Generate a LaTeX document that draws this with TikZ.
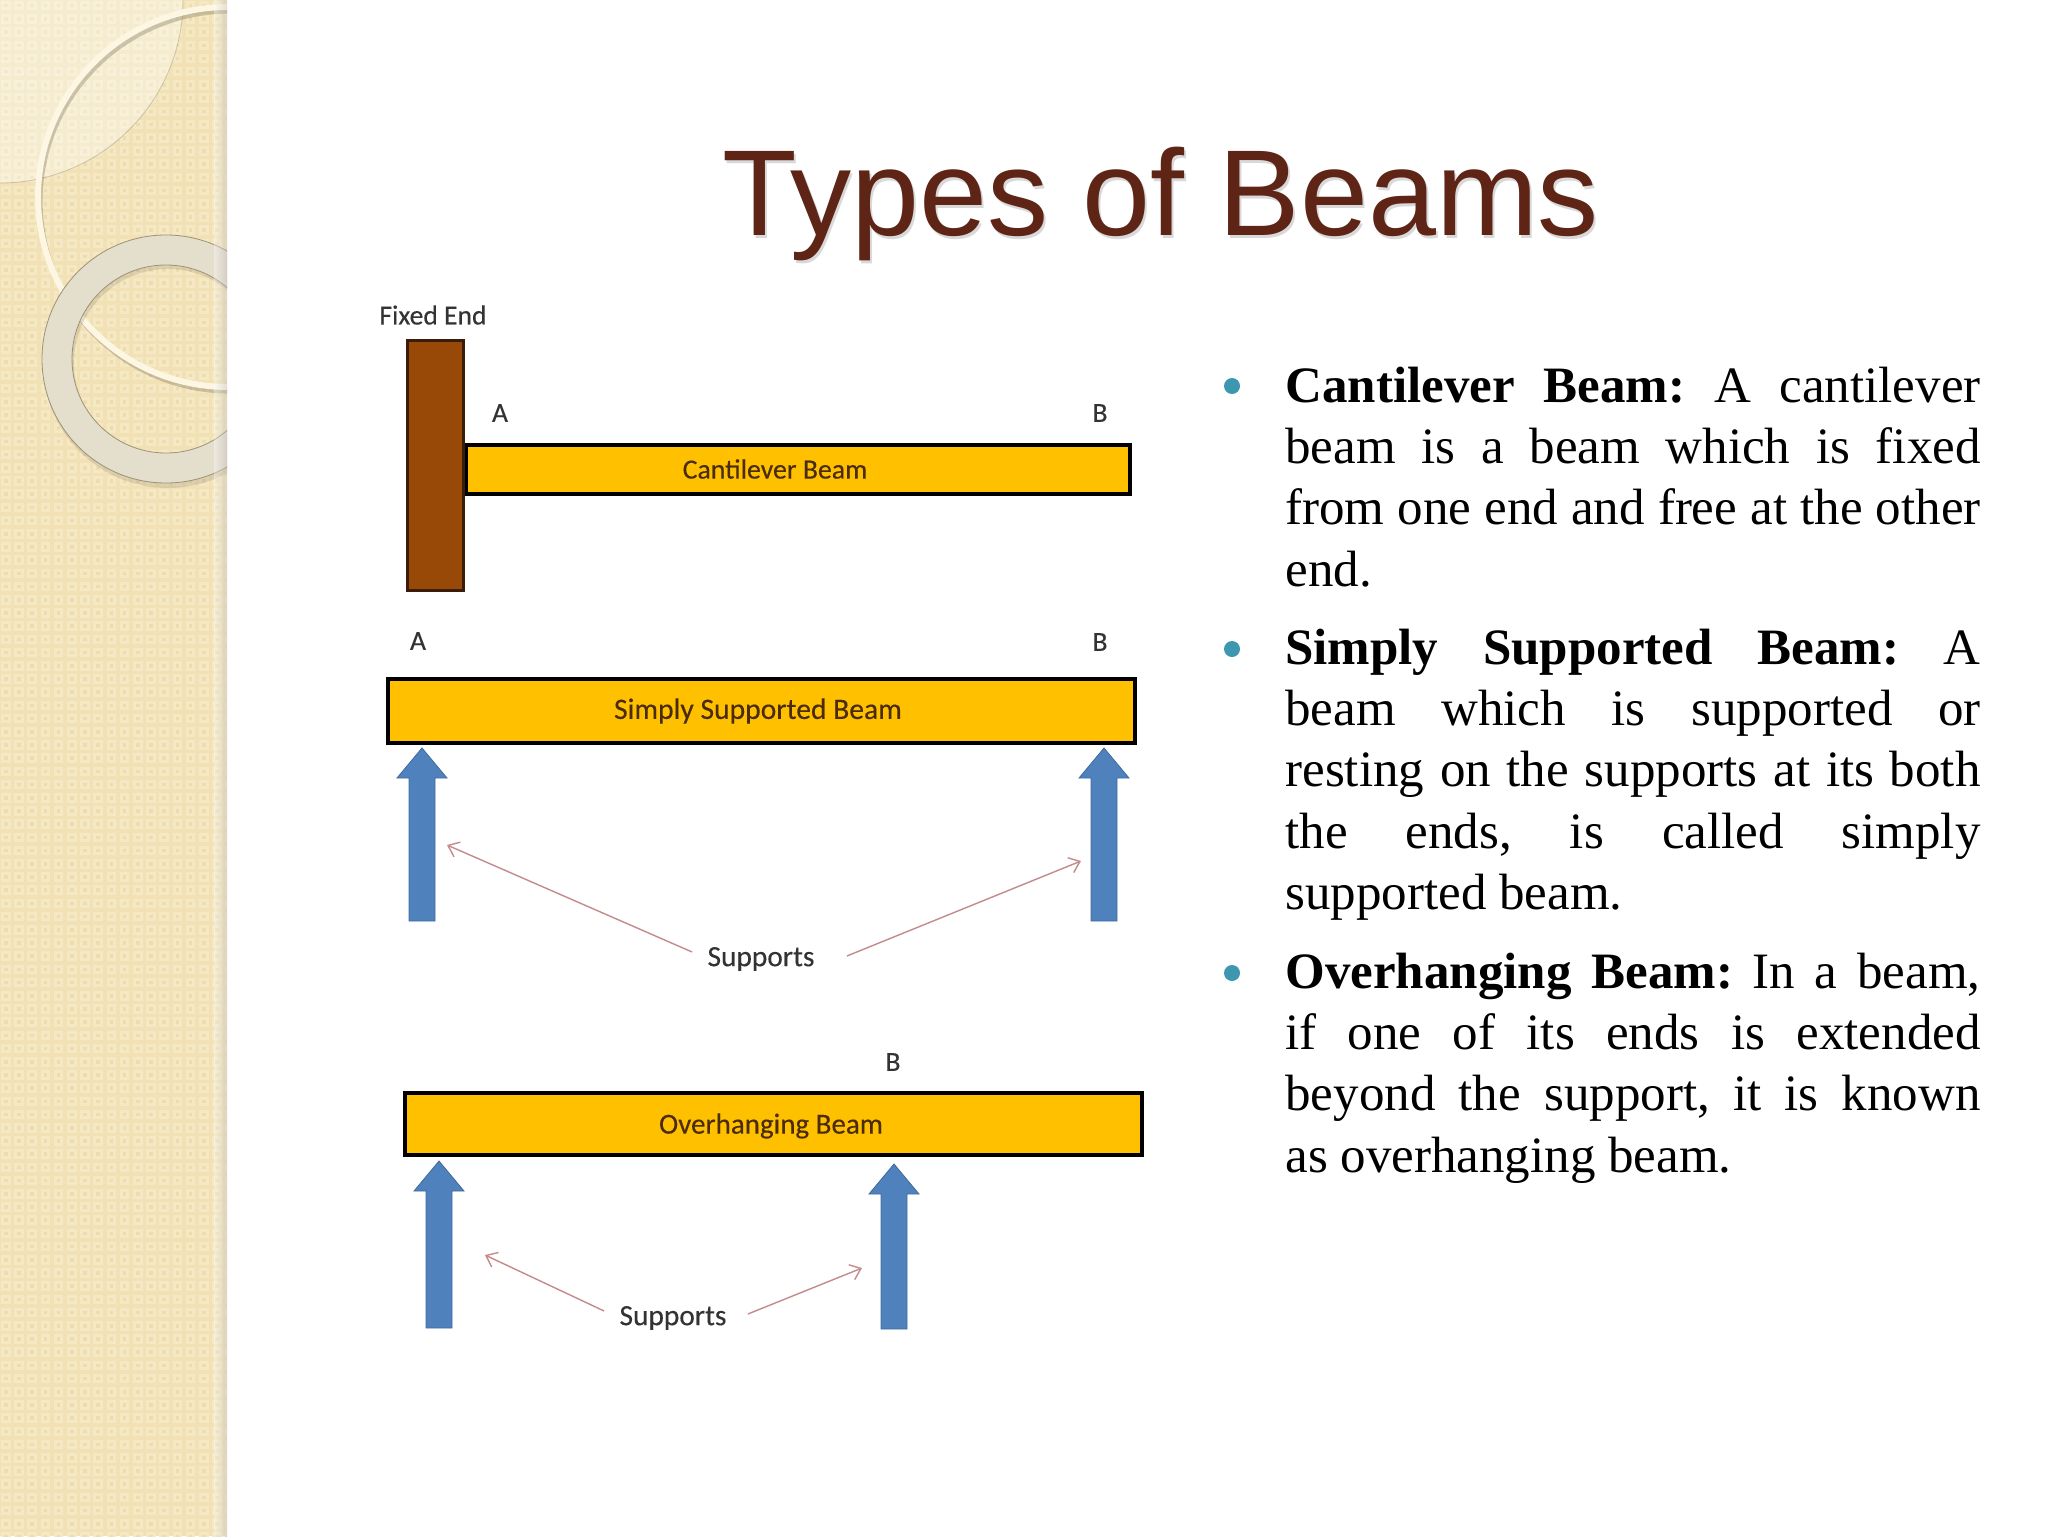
\documentclass[tikz,border=0pt]{standalone}
\usepackage{fontspec}
\setmainfont{Liberation Serif}
\newfontfamily\titlefont{Liberation Sans}
\newfontfamily\labelfont[FakeBold=0.25]{Carlito}
\usetikzlibrary{arrows.meta}
\definecolor{panelbase}{HTML}{F1E1B4}
\definecolor{panellight}{HTML}{F5E8C5}
\definecolor{paneldark}{HTML}{EDDCAC}
\definecolor{ringcol}{HTML}{E4DECD}
\definecolor{swooshcol}{HTML}{FCF6E2}
\definecolor{titlecol}{HTML}{5E2415}
\definecolor{beamcol}{HTML}{FFC000}
\definecolor{wallcol}{HTML}{984807}
\definecolor{wallline}{HTML}{3A1C08}
\definecolor{arrowfill}{HTML}{4F81BD}
\definecolor{arrowline}{HTML}{3F6A9E}
\definecolor{pointer}{HTML}{C48A8C}
\definecolor{bulletcol}{HTML}{3E97B0}
\definecolor{labelcol}{HTML}{333333}
\definecolor{beamtext}{HTML}{4A2C08}
\newlength{\jw}\setlength{\jw}{347.6pt}
\newcommand{\jl}[1]{\hbox to\jw{#1}}
\newcommand{\supportarrow}[3]{%
  \fill[arrowfill,draw=arrowline,line width=0.4pt] ({#1-13},#3) -- ({#1+13},#3) -- ({#1+13},{#2+30}) -- ({#1+25},{#2+30}) -- (#1,#2) -- ({#1-25},{#2+30}) -- ({#1-13},{#2+30}) -- cycle;}
\tikzset{
  beambar/.style={draw=black,fill=beamcol,line width=2pt,rectangle,inner sep=0pt,minimum width=#1},
  lab/.style={inner sep=0pt,font=\labelfont\fontsize{13.8pt}{15pt}\selectfont,text=labelcol},
  suplab/.style={inner sep=0pt,font=\labelfont\fontsize{14.7pt}{16pt}\selectfont,text=labelcol},
  beamlab/.style={inner sep=0pt,text=beamtext},
  para/.style={inner sep=0pt,anchor=base west,font=\fontsize{25.5pt}{30.7pt}\selectfont,text=black},
  bulletdot/.style={circle,fill=bulletcol,inner sep=0pt,minimum size=8pt},
  pointerline/.style={draw=pointer,line width=0.7pt,-{Straight Barb[length=5pt,width=8pt]}},
}
\begin{document}
\frenchspacing
\begin{tikzpicture}[x=0.5pt,y=-0.5pt]
\useasboundingbox (0,0) rectangle (2048,1536);
\fill[white] (0,0) rectangle (2048,1536);
% side panel
\begin{scope}
\clip (0,0) rectangle (227,1536);
\fill[panelbase] (0,0) rectangle (227,1536);
\foreach \i in {0,...,17}{\foreach \j in {0,...,117}{
  \fill[panellight] ({\i*13.2+1},{\j*13.2+1}) rectangle ++(9.5,9.5);
  \fill[paneldark] ({\i*13.2+4},{\j*13.2+4}) rectangle ++(3.5,3.5);
}}
% light quarter disc
\fill[white,opacity=0.35] (0,0) -- (183,0) arc[start angle=0,end angle=90,radius=183] -- cycle;
\draw[black!40!panelbase,opacity=0.4,line width=0.4pt] (183,0) arc[start angle=0,end angle=90,radius=183];
% large thin circle
\draw[black!50!panelbase,opacity=0.35,line width=2.6pt] (230,201) circle[radius=190];
\draw[swooshcol,line width=3pt] (228,197) circle[radius=190];
% ring
\fill[black,opacity=0.10,even odd rule] (168,363) circle[radius=125] (168,363) circle[radius=94];
\fill[ringcol,even odd rule,draw=black!35!panelbase,line width=0.4pt] (166,359) circle[radius=124] (166,359) circle[radius=94];
\shade[left color=black!0,right color=black!30,opacity=0.35] (214,0) rectangle (227,1536);
\end{scope}
% title
\node[inner sep=0pt,anchor=base,text=black,opacity=0.15,font=\titlefont\fontsize{61.1pt}{66pt}\selectfont] (titleshadow) at (1163,238) {Types of Beams};
\node[inner sep=0pt,anchor=base,text=titlecol,font=\titlefont\fontsize{61.1pt}{66pt}\selectfont] (title) at (1161,235) {Types of Beams};
% cantilever
\node[lab] (fixedlab) at (433,315) {Fixed End};
\node[beambar=332pt,minimum height=24.5pt,anchor=north west] (cbeam) at (464,443) {};
\node[draw=wallline,fill=wallcol,line width=1.4pt,rectangle,inner sep=0pt,minimum width=28pt,minimum height=125pt,anchor=north west] (wall) at (406,339) {};
\node[lab] (ca) at (500,413) {A};
\node[lab] (cb) at (1100,413) {B};
\node[beamlab,font=\labelfont\fontsize{13.9pt}{15pt}\selectfont] (clab) at (775,469) {Cantilever Beam};
% simply supported
\node[lab] (sa) at (418,641) {A};
\node[lab] (sb) at (1100,642) {B};
\node[beambar=373.5pt,minimum height=32pt,anchor=north west] (sbeam) at (386,677) {};
\node[beamlab,font=\labelfont\fontsize{14.8pt}{16pt}\selectfont] (slab) at (758,711) {Simply Supported Beam};
\supportarrow{422}{748}{921}
\supportarrow{1104}{748}{921}
\node[suplab] (sup1) at (761,959) {Supports};
\coordinate (s1l) at (447,845);
\coordinate (s1r) at (1081,861);
\draw[pointerline] ([xshift=-7.5pt,yshift=3.5pt]sup1.west) -- (s1l);
\draw[pointerline] ([xshift=16pt,yshift=1.5pt]sup1.east) -- (s1r);
% overhanging
\node[lab] (ob) at (893,1062) {B};
\node[beambar=368.5pt,minimum height=31pt,anchor=north west] (obeam) at (403,1091) {};
\node[beamlab,font=\labelfont\fontsize{14.5pt}{16pt}\selectfont] (olab) at (771,1126) {Overhanging Beam};
\supportarrow{439}{1161}{1328}
\supportarrow{894}{1164}{1329}
\node[suplab] (sup2) at (673,1318) {Supports};
\coordinate (s2l) at (485,1255);
\coordinate (s2r) at (862,1268);
\draw[pointerline] ([xshift=-7.5pt,yshift=3.5pt]sup2.west) -- (s2l);
\draw[pointerline] ([xshift=10.5pt,yshift=2pt]sup2.east) -- (s2r);
% bullets
\node[bulletdot] (b1) at (1232,386) {};
\node[bulletdot] (b2) at (1232,649) {};
\node[bulletdot] (b3) at (1232,973) {};
% text
\node[para] (p1) at (1285,402) {\vtop{\baselineskip=30.7pt
\jl{\textbf{Cantilever Beam:} A cantilever}
\jl{beam is a beam which is fixed}
\jl{from one end and free at the other}
\hbox{end.}}};
\node[para] (p2) at (1285,664) {\vtop{\baselineskip=30.7pt
\jl{\textbf{Simply Supported Beam:} A}
\jl{beam which is supported or}
\jl{resting on the supports at its both}
\jl{the ends, is called simply}
\hbox{supported beam.}}};
\node[para] (p3) at (1285,988) {\vtop{\baselineskip=30.7pt
\jl{\textbf{Overhanging Beam:} In a beam,}
\jl{if one of its ends is extended}
\jl{beyond the support, it is known}
\hbox{as overhanging beam.}}};
\end{tikzpicture}
\end{document}
